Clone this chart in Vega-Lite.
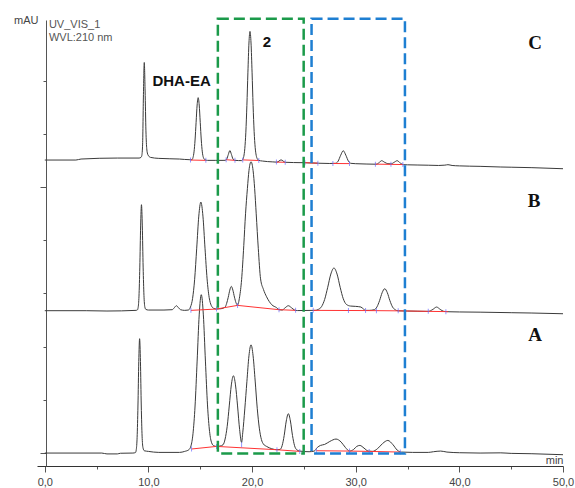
{
"$schema": "https://vega.github.io/schema/vega-lite/v6.json",
"width": 526, "height": 446,
"autosize": {"type": "none"},
"padding": {"left": 37, "top": 20, "right": 12, "bottom": 22},
"background": "white",
"config": {"view": {"stroke": null}, "font": "Liberation Sans"},
"datasets": {
"traces": [
{"trace":"C","t":0,"v":441},{"trace":"C","t":3,"v":441},{"trace":"C","t":3.5,"v":442.5},{"trace":"C","t":7,"v":444},{"trace":"C","t":9.1,"v":444},{"trace":"C","t":9.28,"v":445},{"trace":"C","t":9.36,"v":447.5},{"trace":"C","t":9.44,"v":465},{"trace":"C","t":9.52,"v":540},{"trace":"C","t":9.6,"v":588},{"trace":"C","t":9.68,"v":545},{"trace":"C","t":9.76,"v":485},{"trace":"C","t":9.84,"v":458},{"trace":"C","t":9.95,"v":449},{"trace":"C","t":10.2,"v":445},{"trace":"C","t":11,"v":443.5},{"trace":"C","t":13,"v":442.5},{"trace":"C","t":14,"v":441.5},
{"trace":"C","t":14.2,"v":441.5},{"trace":"C","t":14.3,"v":444.6},{"trace":"C","t":14.4,"v":453.3},{"trace":"C","t":14.5,"v":471.2},{"trace":"C","t":14.6,"v":497.8},{"trace":"C","t":14.7,"v":523.9},{"trace":"C","t":14.8,"v":535},{"trace":"C","t":14.9,"v":523.9},{"trace":"C","t":15.0,"v":497.8},{"trace":"C","t":15.1,"v":471.2},{"trace":"C","t":15.2,"v":453.3},{"trace":"C","t":15.3,"v":445},{"trace":"C","t":15.45,"v":441.5},{"trace":"C","t":15.7,"v":440.5},{"trace":"C","t":16.5,"v":440.5},{"trace":"C","t":17.2,"v":440.5},
{"trace":"C","t":17.41,"v":440.6},{"trace":"C","t":17.56,"v":442.5},{"trace":"C","t":17.71,"v":449.4},{"trace":"C","t":17.86,"v":455.2},{"trace":"C","t":18.01,"v":449.4},{"trace":"C","t":18.16,"v":442.5},{"trace":"C","t":18.31,"v":440.6},{"trace":"C","t":18.7,"v":440.2},{"trace":"C","t":19.0,"v":440.2},
{"trace":"C","t":19.1,"v":441.9},{"trace":"C","t":19.2,"v":446.4},{"trace":"C","t":19.3,"v":458.3},{"trace":"C","t":19.4,"v":482.9},{"trace":"C","t":19.5,"v":523.2},{"trace":"C","t":19.6,"v":573.4},{"trace":"C","t":19.7,"v":617.3},{"trace":"C","t":19.8,"v":634.8},{"trace":"C","t":19.9,"v":617.3},{"trace":"C","t":20.0,"v":573.4},{"trace":"C","t":20.1,"v":523.2},{"trace":"C","t":20.2,"v":484},{"trace":"C","t":20.3,"v":460},{"trace":"C","t":20.4,"v":448},{"trace":"C","t":20.5,"v":443},{"trace":"C","t":20.65,"v":440.5},{"trace":"C","t":21,"v":439.5},{"trace":"C","t":22,"v":438.2},{"trace":"C","t":22.4,"v":437.8},{"trace":"C","t":22.8,"v":441.2},{"trace":"C","t":23.2,"v":437.6},{"trace":"C","t":24,"v":437.2},{"trace":"C","t":25,"v":437},{"trace":"C","t":25.7,"v":436.6},{"trace":"C","t":26.4,"v":436.2},{"trace":"C","t":27.5,"v":435.8},
{"trace":"C","t":28.05,"v":436.1},{"trace":"C","t":28.3,"v":439.2},{"trace":"C","t":28.55,"v":448.2},{"trace":"C","t":28.8,"v":455},{"trace":"C","t":29.05,"v":448.2},{"trace":"C","t":29.3,"v":439.2},{"trace":"C","t":29.55,"v":436},{"trace":"C","t":30,"v":435.5},{"trace":"C","t":31,"v":435},{"trace":"C","t":32,"v":434.7},{"trace":"C","t":32.25,"v":437},{"trace":"C","t":32.5,"v":440},{"trace":"C","t":32.8,"v":437.5},{"trace":"C","t":33.1,"v":435.5},{"trace":"C","t":33.4,"v":435.2},{"trace":"C","t":33.7,"v":437.5},{"trace":"C","t":34.0,"v":440},{"trace":"C","t":34.3,"v":436.5},{"trace":"C","t":34.6,"v":434},{"trace":"C","t":35,"v":433.8},{"trace":"C","t":36,"v":433.5},{"trace":"C","t":37,"v":433.2},{"trace":"C","t":38,"v":432.8},{"trace":"C","t":38.6,"v":433.3},{"trace":"C","t":38.9,"v":434},{"trace":"C","t":39.3,"v":432.8},{"trace":"C","t":40,"v":432.2},{"trace":"C","t":42,"v":431.5},{"trace":"C","t":44,"v":430.5},{"trace":"C","t":45,"v":430.2},{"trace":"C","t":47,"v":429.5},{"trace":"C","t":50,"v":427.9},
{"trace":"B","t":0,"v":214},{"trace":"B","t":4,"v":214},{"trace":"B","t":6,"v":213.5},{"trace":"B","t":8.8,"v":214.5},{"trace":"B","t":8.93,"v":215.1},{"trace":"B","t":9.01,"v":218.9},{"trace":"B","t":9.09,"v":236},{"trace":"B","t":9.17,"v":279.7},{"trace":"B","t":9.25,"v":341.7},{"trace":"B","t":9.33,"v":373.7},{"trace":"B","t":9.41,"v":341.7},{"trace":"B","t":9.49,"v":279.7},{"trace":"B","t":9.57,"v":237},{"trace":"B","t":9.65,"v":220},{"trace":"B","t":9.75,"v":216},{"trace":"B","t":10,"v":215},{"trace":"B","t":11.5,"v":215},{"trace":"B","t":12.3,"v":215.5},{"trace":"B","t":12.5,"v":218.5},{"trace":"B","t":12.7,"v":221.5},{"trace":"B","t":12.9,"v":218.5},{"trace":"B","t":13.1,"v":215.5},{"trace":"B","t":13.5,"v":214.5},{"trace":"B","t":13.86,"v":215},
{"trace":"B","t":14.06,"v":219.6},{"trace":"B","t":14.26,"v":232.3},{"trace":"B","t":14.46,"v":261.3},{"trace":"B","t":14.66,"v":308.2},{"trace":"B","t":14.86,"v":356.5},{"trace":"B","t":15.06,"v":377.7},{"trace":"B","t":15.26,"v":356.5},{"trace":"B","t":15.46,"v":308.2},{"trace":"B","t":15.66,"v":262},{"trace":"B","t":15.86,"v":234},{"trace":"B","t":16.06,"v":222},{"trace":"B","t":16.3,"v":217.5},{"trace":"B","t":16.57,"v":216.5},{"trace":"B","t":17.0,"v":217},{"trace":"B","t":17.4,"v":219.5},{"trace":"B","t":17.55,"v":225.1},{"trace":"B","t":17.7,"v":234.1},{"trace":"B","t":17.85,"v":244.9},{"trace":"B","t":18.0,"v":250.6},{"trace":"B","t":18.15,"v":244.9},{"trace":"B","t":18.3,"v":234.5},{"trace":"B","t":18.45,"v":226},{"trace":"B","t":18.6,"v":222.5},
{"trace":"B","t":18.8,"v":235},{"trace":"B","t":18.99,"v":260.7},{"trace":"B","t":19.2,"v":312},{"trace":"B","t":19.37,"v":360},{"trace":"B","t":19.55,"v":398},{"trace":"B","t":19.7,"v":425},{"trace":"B","t":19.9,"v":438.4},{"trace":"B","t":20.1,"v":425},{"trace":"B","t":20.25,"v":398},{"trace":"B","t":20.4,"v":360},{"trace":"B","t":20.6,"v":308},{"trace":"B","t":20.82,"v":262},{"trace":"B","t":21.1,"v":246},{"trace":"B","t":21.4,"v":235},{"trace":"B","t":21.9,"v":223},{"trace":"B","t":22.37,"v":218.5},{"trace":"B","t":22.6,"v":215.5},{"trace":"B","t":22.9,"v":215},{"trace":"B","t":23.2,"v":218.5},{"trace":"B","t":23.5,"v":221.5},{"trace":"B","t":23.8,"v":218.5},{"trace":"B","t":24.1,"v":215},{"trace":"B","t":24.4,"v":214.2},{"trace":"B","t":25,"v":214.3},{"trace":"B","t":25.9,"v":214.5},
{"trace":"B","t":26.1,"v":214.5},{"trace":"B","t":26.4,"v":216},{"trace":"B","t":26.7,"v":220},{"trace":"B","t":27.0,"v":230.8},{"trace":"B","t":27.3,"v":249.3},{"trace":"B","t":27.6,"v":269.2},{"trace":"B","t":27.9,"v":278.3},{"trace":"B","t":28.2,"v":269.2},{"trace":"B","t":28.5,"v":249.3},{"trace":"B","t":28.8,"v":232},{"trace":"B","t":29.1,"v":223.5},{"trace":"B","t":29.5,"v":221},{"trace":"B","t":30,"v":220.5},{"trace":"B","t":30.5,"v":219.5},{"trace":"B","t":30.75,"v":216.5},{"trace":"B","t":30.95,"v":214.5},{"trace":"B","t":31.3,"v":214.5},{"trace":"B","t":31.8,"v":215.5},{"trace":"B","t":32.05,"v":219.7},{"trace":"B","t":32.3,"v":229.1},{"trace":"B","t":32.55,"v":241.1},{"trace":"B","t":32.8,"v":247.1},{"trace":"B","t":33.05,"v":241.1},{"trace":"B","t":33.3,"v":229.1},{"trace":"B","t":33.55,"v":219.7},{"trace":"B","t":33.8,"v":215.5},{"trace":"B","t":34.1,"v":213.8},{"trace":"B","t":35,"v":213.5},{"trace":"B","t":36,"v":213.2},{"trace":"B","t":37,"v":213},{"trace":"B","t":37.45,"v":216},{"trace":"B","t":37.8,"v":219.5},{"trace":"B","t":38.15,"v":216},{"trace":"B","t":38.5,"v":213},{"trace":"B","t":39,"v":212.4},{"trace":"B","t":40,"v":212.1},{"trace":"B","t":42,"v":211.8},{"trace":"B","t":45,"v":211},{"trace":"B","t":47,"v":210.5},{"trace":"B","t":50,"v":209.4},
{"trace":"A","t":0,"v":-0.5},{"trace":"A","t":5.5,"v":-0.5},{"trace":"A","t":6.0,"v":-1.8},{"trace":"A","t":7.0,"v":-1.8},{"trace":"A","t":7.3,"v":-0.8},{"trace":"A","t":8.5,"v":-0.5},{"trace":"A","t":8.75,"v":0.2},{"trace":"A","t":8.83,"v":4.8},{"trace":"A","t":8.91,"v":23.2},{"trace":"A","t":8.99,"v":70.4},{"trace":"A","t":9.07,"v":137.4},{"trace":"A","t":9.15,"v":171.8},{"trace":"A","t":9.23,"v":137.4},{"trace":"A","t":9.31,"v":70.4},{"trace":"A","t":9.39,"v":25},{"trace":"A","t":9.47,"v":8},{"trace":"A","t":9.6,"v":3},{"trace":"A","t":10,"v":2},{"trace":"A","t":11,"v":0.5},{"trace":"A","t":13,"v":0.5},{"trace":"A","t":13.5,"v":2},{"trace":"A","t":13.9,"v":4.5},
{"trace":"A","t":14.1,"v":10},{"trace":"A","t":14.3,"v":28.6},{"trace":"A","t":14.5,"v":70.4},{"trace":"A","t":14.7,"v":138.1},{"trace":"A","t":14.9,"v":207.7},{"trace":"A","t":15.1,"v":238.1},{"trace":"A","t":15.3,"v":207.7},{"trace":"A","t":15.5,"v":138.1},{"trace":"A","t":15.7,"v":72},{"trace":"A","t":15.9,"v":32},{"trace":"A","t":16.1,"v":15},{"trace":"A","t":16.3,"v":10.5},{"trace":"A","t":16.57,"v":9.5},{"trace":"A","t":16.9,"v":10},{"trace":"A","t":17.2,"v":12},{"trace":"A","t":17.4,"v":20.7},{"trace":"A","t":17.6,"v":39.7},{"trace":"A","t":17.8,"v":70.5},{"trace":"A","t":18.0,"v":102.2},{"trace":"A","t":18.2,"v":116},{"trace":"A","t":18.4,"v":102.2},{"trace":"A","t":18.6,"v":70.5},{"trace":"A","t":18.8,"v":35},{"trace":"A","t":18.99,"v":15.5},
{"trace":"A","t":19.1,"v":30},{"trace":"A","t":19.3,"v":66},{"trace":"A","t":19.5,"v":107},{"trace":"A","t":19.7,"v":146},{"trace":"A","t":19.9,"v":162.7},{"trace":"A","t":20.1,"v":146},{"trace":"A","t":20.3,"v":108},{"trace":"A","t":20.5,"v":67},{"trace":"A","t":20.7,"v":37},{"trace":"A","t":20.9,"v":20},{"trace":"A","t":21.1,"v":13},{"trace":"A","t":21.4,"v":9.5},{"trace":"A","t":21.9,"v":6},{"trace":"A","t":22.4,"v":4.5},{"trace":"A","t":22.7,"v":5},{"trace":"A","t":22.9,"v":10.6},{"trace":"A","t":23.1,"v":26},{"trace":"A","t":23.3,"v":47.8},{"trace":"A","t":23.5,"v":58.8},{"trace":"A","t":23.7,"v":47.8},{"trace":"A","t":23.9,"v":26},{"trace":"A","t":24.1,"v":10.6},{"trace":"A","t":24.3,"v":4.6},{"trace":"A","t":24.6,"v":2.5},
{"trace":"A","t":25.5,"v":1.5},{"trace":"A","t":26.0,"v":2.5},{"trace":"A","t":26.3,"v":8},{"trace":"A","t":26.6,"v":11},{"trace":"A","t":27.0,"v":12.5},{"trace":"A","t":27.5,"v":17},{"trace":"A","t":28.1,"v":20.6},{"trace":"A","t":28.6,"v":16},{"trace":"A","t":29.0,"v":8},{"trace":"A","t":29.4,"v":2.5},{"trace":"A","t":29.8,"v":5},{"trace":"A","t":30.1,"v":9.5},{"trace":"A","t":30.4,"v":11},{"trace":"A","t":30.8,"v":7},{"trace":"A","t":31.2,"v":2.5},{"trace":"A","t":31.6,"v":2},{"trace":"A","t":32.1,"v":6},{"trace":"A","t":32.6,"v":14},{"trace":"A","t":33.1,"v":18.5},{"trace":"A","t":33.6,"v":12},{"trace":"A","t":34.0,"v":4},{"trace":"A","t":34.4,"v":1},{"trace":"A","t":35.5,"v":0.5},{"trace":"A","t":37,"v":0.5},{"trace":"A","t":37.5,"v":1.5},{"trace":"A","t":38.2,"v":2.5},{"trace":"A","t":38.8,"v":1},{"trace":"A","t":40,"v":0},{"trace":"A","t":42,"v":-0.5},{"trace":"A","t":44,"v":-0.2},{"trace":"A","t":45,"v":-1},{"trace":"A","t":47,"v":-1.5},{"trace":"A","t":50,"v":-3}
],
"baselines": [
{"seg":"a1","t":14.16,"v":5.6},{"seg":"a1","t":16.57,"v":9.5},
{"seg":"a2","t":16.57,"v":9.5},{"seg":"a2","t":22.4,"v":4.5},{"seg":"a2","t":24.6,"v":2},
{"seg":"a3","t":26.2,"v":3},{"seg":"a3","t":29.4,"v":2.5},{"seg":"a3","t":31.3,"v":2},{"seg":"a3","t":34.3,"v":1},
{"seg":"b1","t":14.1,"v":214.5},{"seg":"b1","t":16.57,"v":216.5},{"seg":"b1","t":18.6,"v":222},{"seg":"b1","t":22.6,"v":215.5},{"seg":"b1","t":24.2,"v":214.5},
{"seg":"b2","t":25.9,"v":214.5},{"seg":"b2","t":30.95,"v":214.2},{"seg":"b2","t":34.1,"v":213.8},{"seg":"b2","t":37.0,"v":213},{"seg":"b2","t":38.9,"v":212.6},
{"seg":"c1","t":14.06,"v":441},{"seg":"c1","t":15.54,"v":440.5},
{"seg":"c2","t":17.5,"v":441.5},{"seg":"c2","t":18.35,"v":440.5},
{"seg":"c3","t":19.1,"v":441.2},{"seg":"c3","t":20.65,"v":440.3},
{"seg":"c4","t":22.35,"v":437.9},{"seg":"c4","t":23.2,"v":437.6},
{"seg":"c5","t":25.1,"v":437},{"seg":"c5","t":26.35,"v":436.3},
{"seg":"c6","t":27.8,"v":435.8},{"seg":"c6","t":29.4,"v":435.6},
{"seg":"c7","t":31.9,"v":434.8},{"seg":"c7","t":34.55,"v":434.2}
],
"delims": [
{"t":14.16,"v":5.6},{"t":16.57,"v":9.5},{"t":18.99,"v":12},{"t":22.4,"v":4.5},{"t":24.6,"v":2},{"t":26.2,"v":3},{"t":29.4,"v":2.5},{"t":31.3,"v":2},{"t":34.3,"v":1},
{"t":14.1,"v":214.5},{"t":16.57,"v":216.5},{"t":18.6,"v":222},{"t":22.6,"v":215.5},{"t":24.2,"v":214.5},{"t":25.9,"v":214.5},{"t":29.3,"v":214.4},{"t":30.95,"v":214.2},{"t":32.0,"v":214},{"t":34.1,"v":213.8},{"t":37.0,"v":213},{"t":38.7,"v":212.6},
{"t":14.06,"v":441},{"t":15.54,"v":440.5},{"t":17.5,"v":441.5},{"t":18.35,"v":440.5},{"t":19.1,"v":441.2},{"t":20.65,"v":440.3},{"t":22.35,"v":437.9},{"t":23.2,"v":437.6},{"t":25.1,"v":437},{"t":26.35,"v":436.3},{"t":27.8,"v":435.8},{"t":29.4,"v":435.6},{"t":31.9,"v":434.8},{"t":33.4,"v":434.6},{"t":34.55,"v":434.2}
],
"boxes": [
{"box":"green","t1":16.7,"t2":24.98,"v1":-1,"v2":654},
{"box":"blue","t1":25.74,"t2":34.75,"v1":-1,"v2":654}
],
"labels": [
{"kind":"info","t":0.4,"v":644.9,"text":"UV_VIS_1"},
{"kind":"info","t":0.4,"v":625.3,"text":"WVL:210 nm"},
{"kind":"peak","t":13.2,"v":560.5,"text":"DHA-EA"},
{"kind":"peak","t":21.43,"v":619.3,"text":"2"},
{"kind":"panel","t":47.3,"v":617.7,"text":"C"},
{"kind":"panel","t":47.2,"v":378.6,"text":"B"},
{"kind":"panel","t":47.3,"v":177.8,"text":"A"}
]
},
"layer": [
{
"data": {"name": "traces"},
"mark": {"type": "line", "color": "#3a3a3a", "strokeWidth": 1, "interpolate": "monotone"},
"encoding": {
"x": {"field": "t", "type": "quantitative",
"scale": {"domain": [-0.75, 50], "nice": false, "zero": false},
"axis": {"title": "min", "titleX": 526, "titleY": -3, "titleAlign": "right", "titleBaseline": "alphabetic", "titleFontWeight": "normal", "titleFontSize": 11, "titleColor": "#444", "titleFont": "Liberation Sans",
"values": [0,2.5,5,7.5,10,12.5,15,17.5,20,22.5,25,27.5,30,32.5,35,37.5,40,42.5,45,47.5,50],
"labelExpr": "datum.value % 10 === 0 ? replace(format(datum.value, '.1f'), '.', ',') : ''",
"tickSize": {"condition": {"test": "datum.value % 10 === 0", "value": 6}, "value": 3},
"labelFontSize": 11, "labelColor": "#444", "labelFont": "Liberation Sans", "labelPadding": 4, "labelOverlap": false, "labelFlush": false,
"domainColor": "#333", "tickColor": "#555", "grid": false}},
"y": {"field": "v", "type": "quantitative",
"scale": {"domain": [-20, 652], "nice": false, "zero": false},
"axis": {"title": "mAU", "titleAngle": 0, "titleAlign": "right", "titleBaseline": "middle", "titleX": -8, "titleY": 0, "titleFontWeight": "normal", "titleFontSize": 11, "titleColor": "#444", "titleFont": "Liberation Sans",
"values": [0,20,40,60,80,100,120,140,160,180,200,220,240,260,280,300,320,340,360,380,400,420,440,460,480,500,520,540,560,580,600,652],
"labels": false,
"tickSize": {"condition": {"test": "datum.value % 100 === 0 || datum.value > 640", "value": 6}, "value": 3},
"offset": -9, "domainColor": "#555", "tickColor": "#555", "grid": false}},
"detail": {"field": "trace"}
}
},
{
"data": {"name": "baselines"},
"mark": {"type": "line", "color": "#ff3333", "strokeWidth": 1},
"encoding": {
"x": {"field": "t", "type": "quantitative"},
"y": {"field": "v", "type": "quantitative"},
"detail": {"field": "seg"}
}
},
{
"data": {"name": "delims"},
"mark": {"type": "tick", "orient": "vertical", "size": 5, "thickness": 1, "color": "#6a6aff"},
"encoding": {
"x": {"field": "t", "type": "quantitative"},
"y": {"field": "v", "type": "quantitative"}
}
},
{
"data": {"name": "boxes"},
"mark": {"type": "rect", "filled": false, "strokeWidth": 2.5, "strokeDash": [11, 5]},
"encoding": {
"x": {"field": "t1", "type": "quantitative"},
"x2": {"field": "t2"},
"y": {"field": "v1", "type": "quantitative"},
"y2": {"field": "v2"},
"stroke": {"field": "box", "type": "nominal", "scale": {"domain": ["green", "blue"], "range": ["#1b9a4a", "#1e7fd2"]}, "legend": null}
}
},
{
"data": {"name": "labels"},
"transform": [{"filter": "datum.kind === 'info'"}],
"mark": {"type": "text", "align": "left", "baseline": "middle", "fontSize": 11, "color": "#555", "font": "Liberation Sans"},
"encoding": {
"x": {"field": "t", "type": "quantitative"},
"y": {"field": "v", "type": "quantitative"},
"text": {"field": "text"}
}
},
{
"data": {"name": "labels"},
"transform": [{"filter": "datum.kind === 'peak'"}],
"mark": {"type": "text", "align": "center", "baseline": "middle", "fontSize": 15, "fontWeight": "bold", "color": "#111", "font": "Liberation Sans"},
"encoding": {
"x": {"field": "t", "type": "quantitative"},
"y": {"field": "v", "type": "quantitative"},
"text": {"field": "text"}
}
},
{
"data": {"name": "labels"},
"transform": [{"filter": "datum.kind === 'panel'"}],
"mark": {"type": "text", "align": "center", "baseline": "middle", "fontSize": 19, "fontWeight": "bold", "color": "#111", "font": "Liberation Serif"},
"encoding": {
"x": {"field": "t", "type": "quantitative"},
"y": {"field": "v", "type": "quantitative"},
"text": {"field": "text"}
}
}
]
}
